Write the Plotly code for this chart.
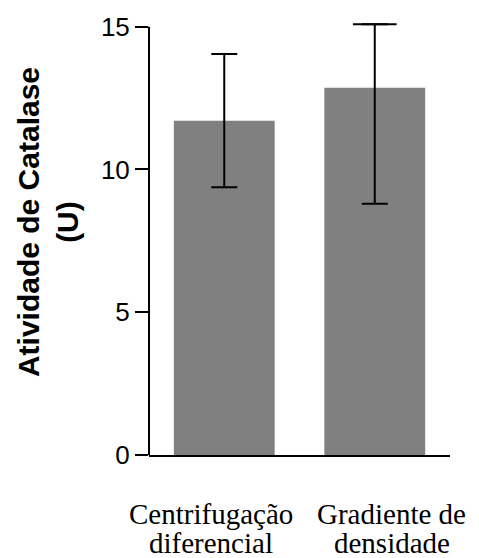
import plotly.graph_objects as go

categories = ["Centrifugação<br>diferencial", "Gradiente de<br>densidade"]
means = [11.71, 12.86]
err_plus = [2.33, 2.23]
err_minus = [2.33, 4.06]
y_ticks = [0, 5, 10, 15]
y_title = "Atividade de Catalase<br>(U)"

y_axis_max = 15
y_range_top = 15.2  # a little headroom so the tallest error bar is not clipped

x_idx = list(range(len(categories)))

fig = go.Figure()
fig.add_trace(go.Bar(
    x=x_idx, y=means, width=0.67,
    marker=dict(color="#808080", line=dict(width=0)),
    error_y=dict(type="data", symmetric=False, array=err_plus, arrayminus=err_minus,
                 color="black", thickness=2, width=13),
    showlegend=False,
))

# wider top cap on the second bar
fig.add_trace(go.Scatter(
    x=[x_idx[1]], y=[means[1] + err_plus[1]], mode="markers",
    marker=dict(size=1, opacity=0), hoverinfo="skip",
    error_x=dict(type="data", array=[0.145], color="black", thickness=2, width=0),
    showlegend=False,
))

# y axis line that stops at the top tick
fig.add_shape(type="line", xref="paper", yref="paper", x0=0, x1=0,
              y0=0, y1=y_axis_max / y_range_top, line=dict(color="black", width=2))

# category labels (serif, two lines each)
shifts = [-13, 17]
for i, cat in enumerate(categories):
    lines = cat.split("<br>")
    for j, ln in enumerate(lines):
        fig.add_annotation(x=x_idx[i], xref="x", y=0, yref="y", yanchor="middle",
                           yshift=-(514 - 455) - j * 29, xshift=shifts[i],
                           text=ln, showarrow=False,
                           font=dict(family="Liberation Serif", size=29, color="black"))

fig.add_annotation(x=-0.335, xref="paper", y=0.537, yref="paper",
                   text="<b>" + y_title.replace("<br>", "</b><br><b>") + "</b>",
                   textangle=-90, showarrow=False, xanchor="center", yanchor="middle",
                   font=dict(family="Liberation Sans", size=30, color="black"))

fig.update_layout(
    width=479, height=558,
    margin=dict(l=149, r=29, t=17, b=103),
    paper_bgcolor="white", plot_bgcolor="white",
    xaxis=dict(range=[-0.5, 1.5], showticklabels=False, ticks="", showline=True,
               linecolor="black", linewidth=2, showgrid=False, zeroline=False, fixedrange=True),
    yaxis=dict(range=[0, y_range_top], tickvals=y_ticks, ticks="outside", ticklen=13, tickwidth=2,
               tickcolor="black", showline=False,
               showgrid=False, zeroline=False,
               tickfont=dict(family="Liberation Sans", size=26, color="black")),
)

fig.write_html("out.html")
